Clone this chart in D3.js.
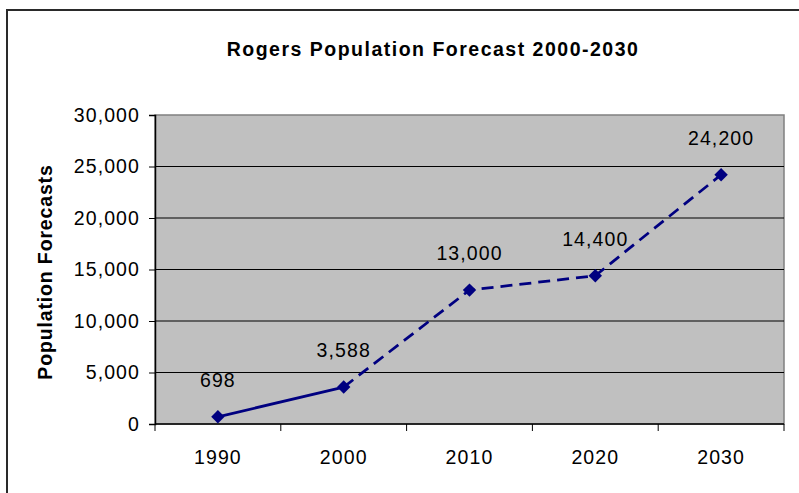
<!DOCTYPE html>
<html><head><meta charset="utf-8">
<script src="https://cdn.jsdelivr.net/npm/d3@7"></script>
<style>
html,body{margin:0;padding:0;background:#fff;}
svg{display:block;font-family:"Liberation Sans",Arial,sans-serif;}
</style></head>
<body><svg id="c" width="799" height="493"></svg>
<script>
const years = ["1990","2000","2010","2020","2030"];
const population = [698, 3588, 13000, 14400, 24200];
const labels = ["698","3,588","13,000","14,400","24,200"];
const yTicks = [0,5000,10000,15000,20000,25000,30000];
const title = "Rogers Population Forecast 2000-2030";
const yTitle = "Population Forecasts";

const svg = d3.select("#c");
const L=155, R=784, T=115, B=424;
const x = d3.scaleBand().domain(years).range([L,R]);
const y = d3.scaleLinear().domain([0,30000]).range([B,T]);
const fmt = d3.format(",");
const FS = 19.5;

svg.append("rect").attr("x",7).attr("y",10).attr("width",900).attr("height",600)
  .attr("fill","#fff").attr("stroke","#2a2a2a").attr("stroke-width",2);

svg.append("rect").attr("x",L).attr("y",T).attr("width",R-L).attr("height",B-T)
  .attr("fill","#c0c0c0").attr("stroke","#808080").attr("stroke-width",1.5);

svg.append("g").selectAll("line").data(yTicks.filter(d=>d>0 && d<30000)).join("line")
  .attr("x1",L).attr("x2",R).attr("y1",d=>y(d)).attr("y2",d=>y(d))
  .attr("stroke","#000").attr("stroke-width",1);

const ya = svg.append("g").attr("transform",`translate(${L},0)`)
  .call(d3.axisLeft(y).tickValues(yTicks).tickFormat(fmt).tickSize(6).tickPadding(9));
ya.select(".domain").attr("stroke","#000").attr("stroke-width",1.5);
ya.selectAll(".tick line").attr("stroke","#000");
ya.selectAll("text").attr("font-size",FS).attr("fill","#000").attr("letter-spacing",1.1)
  .attr("font-family","Liberation Sans, Arial, sans-serif");

const xa = svg.append("g");
xa.append("line").attr("x1",L).attr("x2",R).attr("y1",B).attr("y2",B)
  .attr("stroke","#000").attr("stroke-width",1.5);
const edges = years.map(d=>x(d)).concat([x(years[years.length-1])+x.bandwidth()]);
xa.selectAll("line.t").data(edges).join("line").attr("class","t")
  .attr("x1",d=>d).attr("x2",d=>d).attr("y1",B).attr("y2",B+7).attr("stroke","#000");
xa.selectAll("text").data(years).join("text")
  .attr("x",d=>x(d)+x.bandwidth()/2).attr("y",B+40).attr("text-anchor","middle")
  .attr("font-size",FS).attr("letter-spacing",1.1).text(d=>d);

const pts = years.map((d,i)=>({c:d,v:population[i],l:labels[i]}));
const line = d3.line().x(d=>x(d.c)+x.bandwidth()/2).y(d=>y(d.v));
svg.append("path").datum(pts.slice(0,2)).attr("d",line).attr("fill","none")
  .attr("stroke","#000080").attr("stroke-width",2.75);
svg.append("path").datum(pts.slice(1)).attr("d",line).attr("fill","none")
  .attr("stroke","#000080").attr("stroke-width",2.75).attr("stroke-dasharray","12,7");

svg.append("g").selectAll("path").data(pts).join("path")
  .attr("d",d3.symbol(d3.symbolSquare,90))
  .attr("transform",d=>`translate(${x(d.c)+x.bandwidth()/2},${y(d.v)}) rotate(45)`)
  .attr("fill","#000080");

svg.append("g").selectAll("text").data(pts).join("text")
  .attr("x",d=>x(d.c)+x.bandwidth()/2).attr("y",d=>y(d.v)-30)
  .attr("text-anchor","middle").attr("font-size",FS).attr("letter-spacing",1.1)
  .text(d=>d.l);

svg.append("text").attr("x",433).attr("y",56).attr("text-anchor","middle")
  .attr("font-size",FS).attr("font-weight","bold").attr("letter-spacing",1.5)
  .text(title);

svg.append("text").attr("transform","translate(52,272) rotate(-90)")
  .attr("text-anchor","middle").attr("font-size",FS).attr("font-weight","bold")
  .attr("letter-spacing",0.85).text(yTitle);
</script></body></html>
